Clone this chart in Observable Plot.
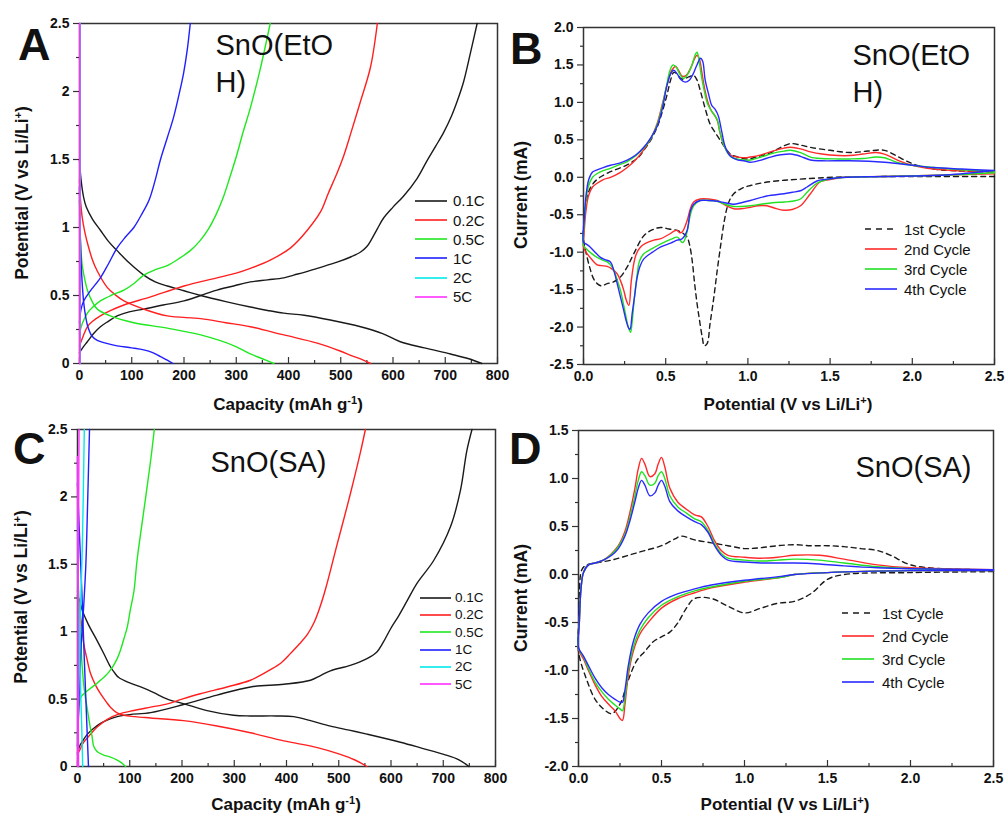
<!DOCTYPE html>
<html>
<head>
<meta charset="utf-8">
<script src="https://cdn.jsdelivr.net/npm/d3@7"></script>
<script src="https://cdn.jsdelivr.net/npm/@observablehq/plot@0.6"></script>
<style>
  body { margin: 0; background: #fff; font-family: "Liberation Sans", Arial, sans-serif; color: #111; }
  #fig { position: relative; width: 1007px; height: 817px; overflow: hidden; background: #fff; }
  #fig svg.plot-panel { position: absolute; }
  .letter { position: absolute; font-weight: bold; font-size: 45px; line-height: 1; }
  .xlab { position: absolute; font-weight: bold; font-size: 17px; line-height: 1; white-space: nowrap; transform: translateX(-50%); }
  .ylab { position: absolute; font-weight: bold; font-size: 17.5px; line-height: 1; white-space: nowrap; transform: translate(-50%, -50%) rotate(-90deg); }
  .xlab sup, .ylab sup { font-size: 11px; line-height: 0; vertical-align: 6px; }
  .lg { position: absolute; line-height: 1; white-space: nowrap; }
</style>
</head>
<body>
<div id="fig"></div>
<script>
// ---------- rate-capability curves, SnO(EtOH): [capacity mAh/g, potential V] ----------
const rateNames = ["0.1C", "0.2C", "0.5C", "1C", "2C", "5C"];
const rateColors = ["#1a1a1a", "#ff1f1f", "#1fe81f", "#1f1fff", "#00eaea", "#ff30ff"];

const etoh01Dis = [[0,1.5],[3,1.35],[8,1.22],[13,1.15],[25,1.06],[40,0.98],[55,0.9],[72,0.83],[95,0.74],[123,0.65],[145,0.6],[168,0.57],[200,0.535],[232,0.5],[280,0.455],[327,0.415],[360,0.39],[391,0.37],[430,0.355],[480,0.32],[538,0.27],[580,0.22],[614,0.16],[660,0.115],[710,0.07],[745,0.035],[770,0]];
const etoh01Chg = [[0,0.08],[5,0.11],[15,0.16],[27,0.22],[40,0.27],[55,0.31],[72,0.35],[95,0.38],[123,0.4],[160,0.43],[200,0.46],[232,0.5],[263,0.54],[295,0.57],[327,0.6],[360,0.615],[391,0.63],[410,0.65],[430,0.67],[455,0.7],[493,0.745],[520,0.785],[538,0.82],[550,0.86],[560,0.92],[570,0.99],[582,1.07],[600,1.15],[620,1.23],[646,1.36],[665,1.49],[682,1.6],[697,1.7],[712,1.82],[723,1.93],[735,2.07],[748,2.28],[761,2.5]];
const etoh02Dis = [[0,1.35],[2,1.2],[5,1.08],[10,0.97],[17,0.86],[25,0.76],[34,0.68],[53,0.56],[70,0.5],[85,0.46],[123,0.4],[168,0.35],[232,0.33],[280,0.3],[327,0.27],[391,0.21],[455,0.15],[500,0.09],[519,0.06],[540,0.03],[557,0]];
const etoh02Chg = [[0,0.13],[7,0.2],[15,0.27],[25,0.31],[40,0.35],[60,0.39],[85,0.43],[136,0.49],[200,0.57],[263,0.63],[300,0.665],[327,0.7],[365,0.76],[404,0.85],[436,0.98],[462,1.12],[476,1.25],[493,1.4],[505,1.52],[519,1.69],[538,1.93],[557,2.18],[570,2.5]];
const etoh05Dis = [[0,1.2],[2,0.9],[5,0.73],[10,0.62],[15,0.54],[25,0.45],[34,0.4],[59,0.35],[104,0.3],[168,0.26],[232,0.21],[296,0.13],[327,0.07],[350,0.035],[372,0]];
const etoh05Chg = [[0,0.22],[5,0.29],[15,0.37],[27,0.42],[40,0.46],[60,0.5],[85,0.54],[105,0.59],[123,0.65],[145,0.69],[168,0.72],[190,0.77],[212,0.83],[230,0.9],[247,0.99],[262,1.1],[275,1.22],[287,1.36],[300,1.52],[313,1.7],[327,1.88],[345,2.15],[365,2.5]];
const etoh1Dis = [[0,1.3],[1,1.0],[3,0.75],[5,0.6],[8,0.45],[12,0.34],[16,0.27],[24,0.2],[34,0.17],[50,0.15],[72,0.13],[100,0.115],[123,0.1],[140,0.08],[155,0.05],[168,0.025],[179,0]];
const etoh1Chg = [[0,0.3],[3,0.4],[8,0.46],[20,0.53],[40,0.63],[55,0.73],[72,0.85],[88,0.93],[104,1.0],[118,1.09],[133,1.2],[145,1.35],[155,1.5],[168,1.66],[180,1.81],[190,1.97],[199,2.13],[206,2.3],[212,2.5]];
const etoh2Dis = [[1,2.5],[1,0]];
const etoh2Chg = [[1,0],[1,2.5]];
const etoh5Dis = [[0.4,2.5],[0.4,0]];
const etoh5Chg = [[0.4,0],[0.4,2.5]];

// ---------- rate-capability curves, SnO(SA) ----------
const sa01Dis = [[0,1.27],[4,1.23],[9,1.16],[20,1.06],[38,0.93],[50,0.84],[63,0.74],[72,0.69],[79,0.66],[100,0.62],[121,0.59],[145,0.55],[172,0.5],[204,0.465],[248,0.415],[299,0.38],[331,0.375],[380,0.375],[414,0.37],[446,0.34],[484,0.3],[520,0.27],[554,0.24],[618,0.18],[660,0.135],[701,0.09],[730,0.05],[749,0]];
const sa01Chg = [[0,0.1],[4,0.15],[10,0.19],[19,0.24],[30,0.28],[44,0.32],[60,0.35],[76,0.37],[100,0.385],[140,0.4],[203,0.46],[267,0.53],[331,0.59],[395,0.61],[446,0.64],[465,0.675],[484,0.71],[522,0.75],[554,0.8],[573,0.85],[585,0.92],[599,1.02],[615,1.12],[631,1.23],[650,1.36],[682,1.53],[714,1.78],[733,2.05],[745,2.34],[755,2.5]];
const sa02Dis = [[0,1.3],[3,1.2],[8,1.05],[12,0.91],[18,0.8],[25,0.69],[35,0.6],[44,0.54],[55,0.48],[63,0.44],[75,0.4],[89,0.38],[110,0.37],[140,0.36],[203,0.34],[267,0.3],[331,0.25],[395,0.19],[459,0.14],[503,0.09],[530,0.05],[554,0]];
const sa02Chg = [[0,0.09],[4,0.12],[12,0.18],[25,0.24],[40,0.3],[57,0.35],[80,0.39],[108,0.415],[140,0.44],[172,0.465],[200,0.5],[235,0.54],[286,0.59],[331,0.64],[370,0.72],[390,0.77],[408,0.84],[425,0.91],[440,0.98],[453,1.07],[463,1.17],[475,1.32],[497,1.65],[510,1.84],[522,2.02],[542,2.34],[551,2.5]];
const sa05Dis = [[0,1.45],[3,1.2],[6,0.95],[9,0.74],[13,0.57],[19,0.42],[24,0.3],[28,0.22],[31,0.15],[38,0.11],[50,0.085],[63,0.07],[75,0.05],[85,0.025],[92,0]];
const sa05Chg = [[0,0.2],[2,0.4],[6,0.51],[15,0.55],[25,0.58],[38,0.62],[50,0.66],[60,0.7],[69,0.75],[76,0.8],[82,0.86],[89,0.95],[95,1.03],[101,1.16],[108,1.3],[114,1.53],[127,1.9],[140,2.27],[147,2.5]];
const sa1Dis = [[0,2.1],[4,1.7],[9,1.23],[13,0.8],[17,0.4],[21,0]];
const sa1Chg = [[0,0.15],[3,0.5],[7,0.9],[12,1.2],[16,1.5],[19,1.9],[21,2.2],[23,2.5]];
const sa2Dis = [[0,1.8],[2,1.3],[5,0.7],[8,0.3],[10,0]];
const sa2Chg = [[0,0.2],[3,0.7],[6,1.2],[9,1.6],[11,2.0],[13,2.5]];
const sa5Dis = [[0,2.3],[1,1.2],[2,0]];
const sa5Chg = [[0,0],[1,1.0],[2,1.8],[3,2.5]];

// ---------- cyclic voltammetry, SnO(EtOH): [potential V, current mA] ----------
const cycleNames = ["1st Cycle", "2nd Cycle", "3rd Cycle", "4th Cycle"];
const cycleColors = ["#1a1a1a", "#ff2a2a", "#22e022", "#2a2aff"];

const etohCv1Cat = [[2.5,0.01],[2.0,0.01],[1.83,0.01],[1.52,0.0],[1.35,-0.02],[1.22,-0.04],[1.1,-0.07],[1.015,-0.11],[0.96,-0.15],[0.914,-0.22],[0.89,-0.3],[0.874,-0.4],[0.855,-0.6],[0.833,-0.93],[0.813,-1.25],[0.793,-1.6],[0.77,-1.95],[0.752,-2.22],[0.735,-2.25],[0.722,-2.13],[0.705,-1.9],[0.691,-1.69],[0.675,-1.4],[0.661,-1.11],[0.645,-0.9],[0.63,-0.8],[0.6,-0.74],[0.57,-0.71],[0.52,-0.69],[0.47,-0.67],[0.42,-0.7],[0.367,-0.78],[0.306,-1.02],[0.265,-1.2],[0.225,-1.33],[0.18,-1.4],[0.144,-1.42],[0.11,-1.45],[0.083,-1.42],[0.06,-1.35],[0.04,-1.22],[0.02,-1.05],[0.0,-0.82]];
const etohCv1An = [[0.01,-0.45],[0.03,-0.2],[0.06,-0.08],[0.1,0.0],[0.15,0.06],[0.205,0.11],[0.26,0.16],[0.306,0.22],[0.34,0.28],[0.367,0.36],[0.41,0.5],[0.448,0.67],[0.48,0.88],[0.509,1.11],[0.53,1.3],[0.549,1.4],[0.57,1.38],[0.59,1.32],[0.61,1.31],[0.64,1.34],[0.67,1.36],[0.69,1.3],[0.71,1.16],[0.74,0.92],[0.77,0.71],[0.8,0.6],[0.833,0.49],[0.86,0.4],[0.894,0.31],[0.94,0.27],[0.996,0.245],[1.05,0.27],[1.14,0.33],[1.2,0.4],[1.26,0.45],[1.32,0.43],[1.38,0.4],[1.5,0.36],[1.62,0.33],[1.73,0.35],[1.83,0.36],[1.9,0.29],[1.96,0.22],[2.03,0.16],[2.13,0.11],[2.23,0.09],[2.5,0.07]];
const etohCv2Cat = [[2.5,0.045],[2.2,0.03],[1.83,0.01],[1.58,0.0],[1.5,-0.03],[1.44,-0.06],[1.38,-0.22],[1.32,-0.38],[1.27,-0.43],[1.22,-0.44],[1.16,-0.41],[1.115,-0.38],[1.06,-0.38],[1.015,-0.4],[0.96,-0.42],[0.914,-0.42],[0.86,-0.37],[0.813,-0.31],[0.76,-0.29],[0.71,-0.29],[0.67,-0.33],[0.65,-0.42],[0.63,-0.58],[0.6,-0.73],[0.585,-0.74],[0.57,-0.71],[0.55,-0.72],[0.53,-0.75],[0.47,-0.82],[0.428,-0.84],[0.38,-0.88],[0.347,-0.93],[0.32,-1.03],[0.306,-1.15],[0.29,-1.4],[0.276,-1.71],[0.26,-1.64],[0.245,-1.51],[0.225,-1.38],[0.205,-1.29],[0.17,-1.22],[0.144,-1.19],[0.11,-1.18],[0.083,-1.17],[0.04,-1.07],[0.015,-1.0],[0,-0.93]];
const etohCv2An = [[0.005,-0.7],[0.015,-0.45],[0.03,-0.25],[0.055,-0.13],[0.083,-0.08],[0.12,-0.03],[0.164,0.0],[0.22,0.06],[0.266,0.13],[0.32,0.24],[0.367,0.37],[0.41,0.52],[0.448,0.72],[0.48,0.98],[0.51,1.25],[0.535,1.42],[0.56,1.48],[0.58,1.42],[0.6,1.35],[0.625,1.36],[0.65,1.45],[0.675,1.58],[0.69,1.63],[0.705,1.58],[0.72,1.4],[0.74,1.15],[0.76,0.98],[0.78,0.88],[0.8,0.82],[0.815,0.75],[0.83,0.6],[0.85,0.45],[0.875,0.34],[0.9,0.29],[0.94,0.27],[0.98,0.26],[1.015,0.27],[1.08,0.3],[1.15,0.35],[1.22,0.39],[1.26,0.4],[1.32,0.38],[1.38,0.34],[1.45,0.31],[1.55,0.29],[1.62,0.29],[1.7,0.31],[1.78,0.33],[1.83,0.31],[1.92,0.22],[2.0,0.16],[2.13,0.11],[2.3,0.085],[2.5,0.07]];
const etohCv3Cat = [[2.5,0.06],[2.2,0.03],[1.83,0.01],[1.6,0.0],[1.5,-0.02],[1.42,-0.08],[1.36,-0.2],[1.32,-0.29],[1.27,-0.32],[1.22,-0.33],[1.15,-0.34],[1.08,-0.36],[1.015,-0.38],[0.96,-0.39],[0.914,-0.39],[0.86,-0.36],[0.813,-0.32],[0.76,-0.31],[0.71,-0.31],[0.67,-0.38],[0.65,-0.5],[0.63,-0.73],[0.61,-0.86],[0.6,-0.87],[0.585,-0.83],[0.57,-0.8],[0.53,-0.83],[0.47,-0.89],[0.42,-0.95],[0.367,-1.02],[0.34,-1.12],[0.327,-1.29],[0.31,-1.6],[0.295,-1.95],[0.286,-2.07],[0.27,-1.98],[0.255,-1.82],[0.24,-1.66],[0.225,-1.51],[0.205,-1.37],[0.184,-1.24],[0.16,-1.16],[0.144,-1.13],[0.11,-1.1],[0.083,-1.07],[0.05,-1.02],[0.02,-0.96],[0,-0.91]];
const etohCv3An = [[0.005,-0.6],[0.015,-0.32],[0.03,-0.12],[0.055,0.0],[0.083,0.05],[0.12,0.09],[0.164,0.12],[0.22,0.17],[0.266,0.21],[0.32,0.29],[0.367,0.39],[0.41,0.52],[0.448,0.7],[0.48,0.96],[0.505,1.22],[0.525,1.42],[0.545,1.5],[0.565,1.47],[0.585,1.38],[0.61,1.32],[0.635,1.38],[0.66,1.5],[0.68,1.64],[0.69,1.67],[0.7,1.6],[0.715,1.38],[0.735,1.15],[0.755,0.98],[0.78,0.88],[0.8,0.82],[0.815,0.76],[0.83,0.6],[0.85,0.45],[0.875,0.33],[0.9,0.27],[0.94,0.24],[0.98,0.23],[1.015,0.23],[1.08,0.27],[1.15,0.32],[1.22,0.35],[1.26,0.36],[1.32,0.33],[1.38,0.27],[1.45,0.25],[1.55,0.245],[1.62,0.245],[1.7,0.25],[1.78,0.27],[1.83,0.26],[1.92,0.19],[2.0,0.16],[2.13,0.13],[2.3,0.1],[2.5,0.08]];
const etohCv4Cat = [[2.5,0.09],[2.2,0.03],[1.83,0.01],[1.6,0.0],[1.5,-0.02],[1.42,-0.05],[1.36,-0.13],[1.32,-0.18],[1.27,-0.2],[1.22,-0.22],[1.115,-0.25],[1.015,-0.31],[0.96,-0.34],[0.914,-0.36],[0.86,-0.34],[0.813,-0.32],[0.76,-0.31],[0.71,-0.31],[0.67,-0.36],[0.65,-0.45],[0.63,-0.71],[0.6,-0.82],[0.57,-0.84],[0.53,-0.88],[0.47,-0.93],[0.42,-1.0],[0.367,-1.09],[0.345,-1.18],[0.327,-1.33],[0.31,-1.6],[0.296,-1.82],[0.283,-2.03],[0.276,-2.02],[0.26,-1.92],[0.245,-1.78],[0.225,-1.6],[0.205,-1.42],[0.185,-1.25],[0.164,-1.13],[0.13,-1.1],[0.103,-1.07],[0.07,-1.0],[0.04,-0.93],[0.015,-0.89],[0,-0.87]];
const etohCv4An = [[0.005,-0.55],[0.015,-0.25],[0.032,-0.03],[0.055,0.07],[0.083,0.1],[0.12,0.13],[0.164,0.16],[0.22,0.19],[0.266,0.23],[0.32,0.3],[0.367,0.4],[0.41,0.53],[0.448,0.68],[0.48,0.92],[0.505,1.2],[0.53,1.38],[0.549,1.43],[0.57,1.38],[0.59,1.31],[0.62,1.27],[0.645,1.3],[0.665,1.37],[0.69,1.5],[0.712,1.59],[0.725,1.55],[0.74,1.3],[0.762,1.1],[0.78,0.96],[0.8,0.91],[0.82,0.82],[0.84,0.62],[0.86,0.42],[0.88,0.32],[0.9,0.27],[0.94,0.23],[0.975,0.22],[1.015,0.2],[1.08,0.23],[1.138,0.27],[1.2,0.3],[1.26,0.31],[1.32,0.28],[1.38,0.23],[1.45,0.22],[1.62,0.22],[1.83,0.2],[2.0,0.16],[2.13,0.13],[2.3,0.11],[2.5,0.09]];

// ---------- cyclic voltammetry, SnO(SA) ----------
const saCv1Cat = [[2.5,0.03],[2.0,0.02],[1.6,0.0],[1.5,-0.05],[1.4,-0.2],[1.3,-0.28],[1.2,-0.3],[1.1,-0.35],[1.0,-0.4],[0.9,-0.33],[0.8,-0.25],[0.7,-0.25],[0.65,-0.35],[0.6,-0.5],[0.55,-0.6],[0.5,-0.65],[0.45,-0.7],[0.4,-0.8],[0.35,-0.9],[0.3,-1.1],[0.25,-1.35],[0.2,-1.45],[0.15,-1.4],[0.1,-1.3],[0.05,-1.1],[0,-0.8]];
const saCv1An = [[0.005,-0.4],[0.02,0.05],[0.05,0.1],[0.1,0.12],[0.2,0.15],[0.3,0.2],[0.4,0.25],[0.5,0.3],[0.58,0.37],[0.62,0.4],[0.7,0.36],[0.8,0.33],[0.9,0.3],[1.0,0.27],[1.1,0.28],[1.2,0.3],[1.3,0.31],[1.4,0.3],[1.5,0.3],[1.6,0.29],[1.7,0.27],[1.8,0.25],[1.88,0.2],[2.0,0.1],[2.2,0.06],[2.5,0.05]];
const saCv2Cat = [[2.5,0.04],[2.0,0.04],[1.5,0.02],[1.3,0.0],[1.22,-0.03],[1.0,-0.08],[0.8,-0.14],[0.7,-0.19],[0.6,-0.25],[0.5,-0.35],[0.42,-0.5],[0.37,-0.62],[0.33,-0.8],[0.3,-1.05],[0.28,-1.35],[0.265,-1.52],[0.25,-1.5],[0.22,-1.42],[0.18,-1.35],[0.14,-1.27],[0.1,-1.15],[0.06,-1.0],[0.03,-0.88],[0,-0.78]];
const saCv2An = [[0.005,-0.5],[0.015,-0.15],[0.03,0.02],[0.06,0.1],[0.1,0.12],[0.15,0.15],[0.2,0.22],[0.24,0.3],[0.28,0.45],[0.31,0.65],[0.34,0.9],[0.36,1.1],[0.38,1.21],[0.4,1.15],[0.43,1.02],[0.46,1.05],[0.48,1.15],[0.5,1.22],[0.52,1.12],[0.55,0.9],[0.6,0.75],[0.65,0.68],[0.7,0.62],[0.74,0.6],[0.78,0.5],[0.82,0.35],[0.86,0.25],[0.9,0.2],[1.0,0.18],[1.1,0.17],[1.2,0.18],[1.3,0.2],[1.45,0.2],[1.6,0.16],[1.8,0.1],[2.0,0.07],[2.5,0.05]];
const saCv3Cat = [[2.5,0.04],[2.0,0.04],[1.5,0.02],[1.3,0.0],[1.22,-0.03],[1.0,-0.07],[0.8,-0.13],[0.7,-0.17],[0.6,-0.23],[0.5,-0.32],[0.42,-0.45],[0.37,-0.58],[0.33,-0.76],[0.3,-1.0],[0.28,-1.28],[0.265,-1.42],[0.25,-1.4],[0.22,-1.36],[0.18,-1.3],[0.14,-1.22],[0.1,-1.12],[0.06,-0.98],[0.03,-0.86],[0,-0.77]];
const saCv3An = [[0.005,-0.5],[0.015,-0.15],[0.03,0.02],[0.06,0.1],[0.1,0.12],[0.15,0.15],[0.2,0.21],[0.24,0.29],[0.28,0.42],[0.31,0.6],[0.34,0.82],[0.36,0.98],[0.38,1.07],[0.4,1.03],[0.43,0.93],[0.46,0.95],[0.48,1.03],[0.5,1.07],[0.52,1.0],[0.55,0.82],[0.6,0.7],[0.65,0.64],[0.7,0.58],[0.74,0.55],[0.78,0.46],[0.82,0.32],[0.86,0.22],[0.9,0.17],[1.0,0.15],[1.1,0.14],[1.2,0.15],[1.3,0.16],[1.45,0.15],[1.6,0.12],[1.8,0.08],[2.0,0.06],[2.5,0.05]];
const saCv4Cat = [[2.5,0.04],[2.0,0.04],[1.5,0.02],[1.3,0.0],[1.22,-0.02],[1.0,-0.06],[0.8,-0.11],[0.7,-0.15],[0.6,-0.2],[0.5,-0.28],[0.42,-0.4],[0.37,-0.52],[0.33,-0.7],[0.3,-0.95],[0.28,-1.2],[0.265,-1.33],[0.25,-1.33],[0.22,-1.3],[0.18,-1.25],[0.14,-1.18],[0.1,-1.08],[0.06,-0.95],[0.03,-0.85],[0,-0.76]];
const saCv4An = [[0.005,-0.5],[0.015,-0.15],[0.03,0.02],[0.06,0.1],[0.1,0.12],[0.15,0.15],[0.2,0.2],[0.24,0.27],[0.28,0.4],[0.31,0.56],[0.34,0.76],[0.36,0.9],[0.38,0.98],[0.4,0.93],[0.43,0.82],[0.46,0.85],[0.48,0.93],[0.5,0.98],[0.52,0.92],[0.55,0.76],[0.6,0.66],[0.65,0.6],[0.7,0.55],[0.74,0.52],[0.78,0.44],[0.82,0.3],[0.86,0.2],[0.9,0.15],[1.0,0.13],[1.1,0.12],[1.2,0.12],[1.3,0.12],[1.45,0.11],[1.6,0.09],[1.8,0.07],[2.0,0.06],[2.5,0.05]];

// ---------- tick values ----------
const capMajor = [0, 100, 200, 300, 400, 500, 600, 700, 800];
const capMinor = [50, 150, 250, 350, 450, 550, 650, 750];
const potMajor = [0, 0.5, 1, 1.5, 2, 2.5];
const potMinor = [0.25, 0.75, 1.25, 1.75, 2.25];
const curMajorB = [-2.5, -2, -1.5, -1, -0.5, 0, 0.5, 1, 1.5, 2];
const curMinorB = [-2.25, -1.75, -1.25, -0.75, -0.25, 0.25, 0.75, 1.25, 1.75];
const curMajorD = [-2, -1.5, -1, -0.5, 0, 0.5, 1, 1.5];
const curMinorD = [-1.75, -1.25, -0.75, -0.25, 0.25, 0.75, 1.25];

// ---------- helpers ----------
const toRows = (parts) => parts.flatMap((pts, k) => pts.map(([x, y]) => ({x, y, part: k})));
const fmt1 = (d) => d.toFixed(1);
const fmtPlain = (d) => String(d);
const fig = document.getElementById("fig");

function panel(cfg) {
  const {box, frame} = cfg;
  const fh = frame.b - frame.t;
  const ink = "#333";
  const marks = [
    Plot.frame({stroke: ink, strokeWidth: 1.5}),
    Plot.ruleX(cfg.xMinor, {stroke: ink, strokeWidth: 1.2, insetTop: fh - 3}),
    Plot.ruleX(cfg.xMajor, {stroke: ink, strokeWidth: 1.2, insetTop: fh - 6}),
    Plot.axisX({ticks: cfg.xMajor, tickSize: 0, tickPadding: 7, tickFormat: cfg.xFmt, fontWeight: "bold", fontSize: 14, label: null}),
    Plot.axisY({ticks: cfg.yMinor, tickSize: 3, tickFormat: () => "", label: null, stroke: ink, strokeWidth: 1.2}),
    Plot.axisY({ticks: cfg.yMajor, tickSize: 6, tickPadding: 4, tickFormat: cfg.yFmt, fontWeight: "bold", fontSize: 14, label: null, stroke: ink, strokeWidth: 1.2})
  ];
  for (const s of cfg.series) {
    marks.push(Plot.line(toRows(s.parts), {
      x: "x", y: "y", z: "part", stroke: s.color, strokeWidth: 1.4,
      strokeDasharray: s.dash, curve: "catmull-rom"
    }));
  }
  marks.push(Plot.text([cfg.note], {
    text: (d) => d, frameAnchor: "top-left", dx: cfg.noteDx, dy: cfg.noteDy,
    textAnchor: "start", lineAnchor: "top", fontSize: 29, lineHeight: 1.28, fill: "#111"
  }));
  const svg = Plot.plot({
    width: box.w, height: box.h,
    marginLeft: frame.l - box.x, marginRight: box.x + box.w - frame.r,
    marginTop: frame.t - box.y, marginBottom: box.y + box.h - frame.b,
    x: {domain: cfg.xDomain},
    y: {domain: cfg.yDomain},
    style: {fontFamily: "'Liberation Sans', Arial, sans-serif", fontSize: "14px", overflow: "visible", background: "transparent", color: "#111"},
    marks
  });
  svg.classList.add("plot-panel");
  svg.style.left = box.x + "px";
  svg.style.top = box.y + "px";
  fig.appendChild(svg);
}

function addHtml(cls, html, left, top) {
  const el = document.createElement("div");
  el.className = cls;
  el.innerHTML = html;
  el.style.left = left + "px";
  el.style.top = top + "px";
  fig.appendChild(el);
}

function legend(names, colors, o) {
  const ns = "http://www.w3.org/2000/svg";
  names.forEach((name, i) => {
    const y = o.y0 + i * o.step;
    const sw = document.createElementNS(ns, "svg");
    sw.setAttribute("width", o.len);
    sw.setAttribute("height", 6);
    sw.style.position = "absolute";
    sw.style.left = o.x + "px";
    sw.style.top = (y - 3) + "px";
    const ln = document.createElementNS(ns, "line");
    ln.setAttribute("x1", 0); ln.setAttribute("x2", o.len);
    ln.setAttribute("y1", 3); ln.setAttribute("y2", 3);
    ln.setAttribute("stroke", colors[i]);
    ln.setAttribute("stroke-width", 1.6);
    if (o.dashFirst && i === 0) ln.setAttribute("stroke-dasharray", "6,5");
    sw.appendChild(ln);
    fig.appendChild(sw);
    const t = document.createElement("div");
    t.className = "lg";
    t.textContent = name;
    t.style.fontSize = o.font + "px";
    t.style.left = o.tx + "px";
    t.style.top = (y - 0.49 * o.font) + "px";
    fig.appendChild(t);
  });
}

// ---------- A: SnO(EtOH) galvanostatic curves ----------
panel({
  box: {x: 0, y: 0, w: 505, h: 415}, frame: {l: 79, r: 497, t: 23, b: 363},
  xDomain: [0, 800], yDomain: [0, 2.5],
  xMajor: capMajor, xMinor: capMinor, yMajor: potMajor, yMinor: potMinor,
  xFmt: fmtPlain, yFmt: fmtPlain,
  series: [
    {color: rateColors[0], parts: [etoh01Dis, etoh01Chg]},
    {color: rateColors[1], parts: [etoh02Dis, etoh02Chg]},
    {color: rateColors[2], parts: [etoh05Dis, etoh05Chg]},
    {color: rateColors[3], parts: [etoh1Dis, etoh1Chg]},
    {color: rateColors[4], parts: [etoh2Dis, etoh2Chg]},
    {color: rateColors[5], parts: [etoh5Dis, etoh5Chg]}
  ],
  note: "SnO(EtO\nH)", noteDx: 136, noteDy: 5
});

// ---------- B: SnO(EtOH) cyclic voltammetry ----------
panel({
  box: {x: 505, y: 0, w: 502, h: 415}, frame: {l: 583, r: 994, t: 27, b: 364},
  xDomain: [0, 2.5], yDomain: [-2.5, 2.0],
  xMajor: potMajor, xMinor: potMinor, yMajor: curMajorB, yMinor: curMinorB,
  xFmt: fmt1, yFmt: fmt1,
  series: [
    {color: cycleColors[0], dash: "5,4", parts: [etohCv1Cat.concat(etohCv1An)]},
    {color: cycleColors[1], parts: [etohCv2Cat.concat(etohCv2An)]},
    {color: cycleColors[2], parts: [etohCv3Cat.concat(etohCv3An)]},
    {color: cycleColors[3], parts: [etohCv4Cat.concat(etohCv4An)]}
  ],
  note: "SnO(EtO\nH)", noteDx: 269, noteDy: 11
});

// ---------- C: SnO(SA) galvanostatic curves ----------
panel({
  box: {x: 0, y: 415, w: 505, h: 402}, frame: {l: 77, r: 495, t: 429, b: 766},
  xDomain: [0, 800], yDomain: [0, 2.5],
  xMajor: capMajor, xMinor: capMinor, yMajor: potMajor, yMinor: potMinor,
  xFmt: fmtPlain, yFmt: fmtPlain,
  series: [
    {color: rateColors[0], parts: [sa01Dis, sa01Chg]},
    {color: rateColors[1], parts: [sa02Dis, sa02Chg]},
    {color: rateColors[2], parts: [sa05Dis, sa05Chg]},
    {color: rateColors[3], parts: [sa1Dis, sa1Chg]},
    {color: rateColors[4], parts: [sa2Dis, sa2Chg]},
    {color: rateColors[5], parts: [sa5Dis, sa5Chg]}
  ],
  note: "SnO(SA)", noteDx: 133, noteDy: 16
});

// ---------- D: SnO(SA) cyclic voltammetry ----------
panel({
  box: {x: 505, y: 415, w: 502, h: 402}, frame: {l: 578, r: 993, t: 430, b: 766},
  xDomain: [0, 2.5], yDomain: [-2.0, 1.5],
  xMajor: potMajor, xMinor: potMinor, yMajor: curMajorD, yMinor: curMinorD,
  xFmt: fmt1, yFmt: fmt1,
  series: [
    {color: cycleColors[0], dash: "5,4", parts: [saCv1Cat.concat(saCv1An)]},
    {color: cycleColors[1], parts: [saCv2Cat.concat(saCv2An)]},
    {color: cycleColors[2], parts: [saCv3Cat.concat(saCv3An)]},
    {color: cycleColors[3], parts: [saCv4Cat.concat(saCv4An)]}
  ],
  note: "SnO(SA)", noteDx: 277, noteDy: 20
});

// ---------- panel letters and axis titles ----------
addHtml("letter", "A", 18, 22);
addHtml("letter", "B", 510, 26);
addHtml("letter", "C", 13, 426);
addHtml("letter", "D", 509, 426);

addHtml("xlab", "Capacity (mAh g<sup>-1</sup>)", 288, 396);
addHtml("xlab", "Potential (V vs Li/Li<sup>+</sup>)", 788, 396);
addHtml("xlab", "Capacity (mAh g<sup>-1</sup>)", 286, 796);
addHtml("xlab", "Potential (V vs Li/Li<sup>+</sup>)", 785, 796);

addHtml("ylab", "Potential (V vs Li/Li<sup>+</sup>)", 23, 193);
addHtml("ylab", "Current (mA)", 522, 195);
addHtml("ylab", "Potential (V vs Li/Li<sup>+</sup>)", 21.5, 597);
addHtml("ylab", "Current (mA)", 522, 598);

// ---------- legends ----------
legend(rateNames, rateColors, {x: 415, len: 32, tx: 453, y0: 200.7, step: 19.2, font: 15});
legend(rateNames, rateColors, {x: 420, len: 31, tx: 455, y0: 597.7, step: 17.3, font: 13.5});
legend(cycleNames, cycleColors, {x: 865, len: 32, tx: 904, y0: 229, step: 20, font: 15, dashFirst: true});
legend(cycleNames, cycleColors, {x: 842, len: 32, tx: 882, y0: 613, step: 23, font: 15, dashFirst: true});
</script>
</body>
</html>
